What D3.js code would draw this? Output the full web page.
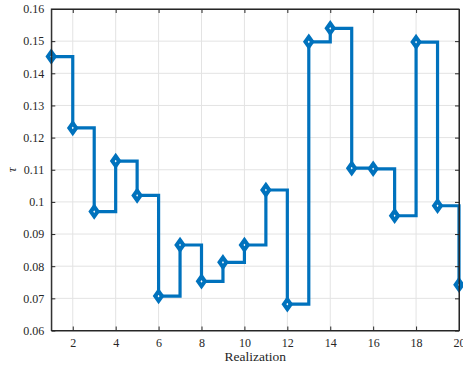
<!DOCTYPE html>
<html>
<head>
<meta charset="utf-8">
<script src="https://cdn.jsdelivr.net/npm/d3@7"></script>
<style>
  body { margin: 0; background: #fff; }
  svg { display: block; }
</style>
</head>
<body>
<div id="chart"></div>
<script>
// data
const realization = d3.range(1, 21);
const tau = [0.1452, 0.1230, 0.0970, 0.1127, 0.1020, 0.0707, 0.0866, 0.0753, 0.0812, 0.0866,
             0.1037, 0.0682, 0.1498, 0.1540, 0.1105, 0.1103, 0.0957, 0.1497, 0.0988, 0.0742];
const xTicks = [2, 4, 6, 8, 10, 12, 14, 16, 18, 20];
const yTicks = [0.06, 0.07, 0.08, 0.09, 0.1, 0.11, 0.12, 0.13, 0.14, 0.15, 0.16];

const width = 463, height = 372;
const margin = { top: 9, right: 4, bottom: 41.5, left: 51.3 };
const innerW = width - margin.left - margin.right;
const innerH = height - margin.top - margin.bottom;
const serif = "Liberation Serif";

const svg = d3.select("#chart").append("svg")
  .attr("width", width)
  .attr("height", height);

const g = svg.append("g")
  .attr("transform", "translate(" + margin.left + "," + margin.top + ")");

const x = d3.scaleLinear().domain([1, 20]).range([0, innerW]);
const y = d3.scaleLinear().domain([0.06, 0.16]).range([innerH, 0]);

// grid
g.append("g").selectAll("line")
  .data(xTicks).enter().append("line")
  .attr("x1", d => x(d)).attr("x2", d => x(d))
  .attr("y1", 0).attr("y2", innerH)
  .attr("stroke", "#e3e3e3").attr("stroke-width", 1);
g.append("g").selectAll("line")
  .data(yTicks).enter().append("line")
  .attr("x1", 0).attr("x2", innerW)
  .attr("y1", d => y(d)).attr("y2", d => y(d))
  .attr("stroke", "#e3e3e3").attr("stroke-width", 1);

// stairs line
const stairs = d3.line()
  .x(d => x(d[0]))
  .y(d => y(d[1]))
  .curve(d3.curveStepAfter);

g.append("path")
  .datum(realization.map((r, i) => [r, tau[i]]))
  .attr("d", stairs)
  .attr("fill", "none")
  .attr("stroke", "#0072BD")
  .attr("stroke-width", 3.2)
  .attr("stroke-linejoin", "miter");

// diamond markers
const dw = 3.4, dh = 4.8;
g.append("g").selectAll("path")
  .data(realization.map((r, i) => [r, tau[i]]))
  .enter().append("path")
  .attr("d", `M0,${-dh}L${dw},0L0,${dh}L${-dw},0Z`)
  .attr("transform", d => "translate(" + x(d[0]) + "," + y(d[1]) + ")")
  .attr("fill", "#fff")
  .attr("stroke", "#0072BD")
  .attr("stroke-width", 4);

// axes box
const axisColor = "#262626";
g.append("rect")
  .attr("width", innerW).attr("height", innerH)
  .attr("fill", "none").attr("stroke", axisColor).attr("stroke-width", 1);

const tickLen = 4;
const xAxisB = d3.axisBottom(x).tickValues(xTicks).tickSizeInner(-tickLen).tickSizeOuter(0).tickPadding(8);
const xAxisT = d3.axisTop(x).tickValues(xTicks).tickSizeInner(-tickLen).tickSizeOuter(0).tickFormat("");
const yAxisL = d3.axisLeft(y).tickValues(yTicks).tickSizeInner(-tickLen).tickSizeOuter(0).tickPadding(7)
  .tickFormat(d => String(+d.toFixed(2)));
const yAxisR = d3.axisRight(y).tickValues(yTicks).tickSizeInner(-tickLen).tickSizeOuter(0).tickFormat("");

function style(sel) {
  sel.attr("font-family", serif).attr("font-size", 12);
  sel.select(".domain").attr("stroke", axisColor);
  sel.selectAll(".tick line").attr("stroke", axisColor);
  sel.selectAll("text").attr("fill", axisColor);
}

g.append("g").attr("transform", "translate(0," + innerH + ")").call(xAxisB).call(style);
g.append("g").call(xAxisT).call(style);
g.append("g").call(yAxisL).call(style);
g.append("g").attr("transform", "translate(" + innerW + ",0)").call(yAxisR).call(style);

// labels
svg.append("text")
  .attr("x", margin.left + innerW / 2)
  .attr("y", 361)
  .attr("text-anchor", "middle")
  .attr("font-family", serif)
  .attr("font-size", 13.5)
  .attr("fill", axisColor)
  .text("Realization");

svg.append("text")
  .attr("transform", "translate(16," + (margin.top + innerH / 2) + ") rotate(-90)")
  .attr("text-anchor", "middle")
  .attr("font-family", serif)
  .attr("font-size", 13.5)
  .attr("fill", axisColor)
  .style("font-style", "italic")
  .text("τ");
</script>
</body>
</html>
